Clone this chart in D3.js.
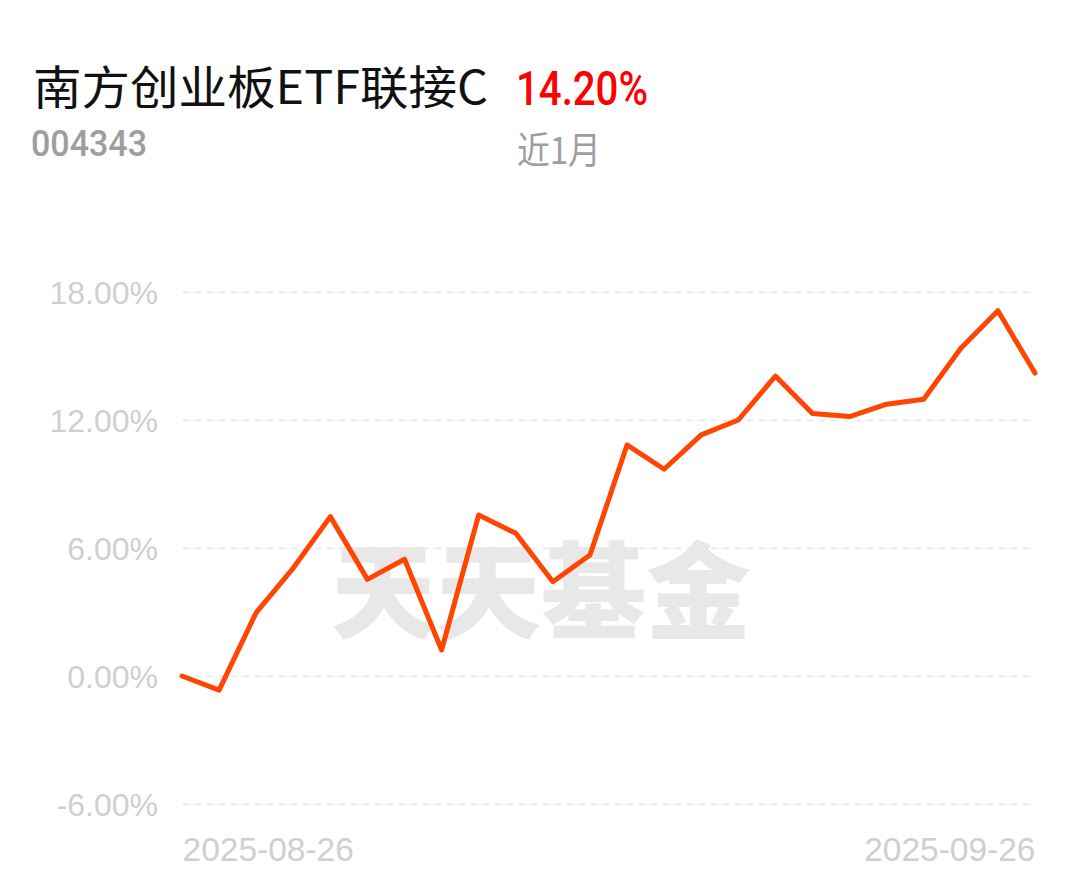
<!DOCTYPE html>
<html>
<head>
<meta charset="utf-8">
<script src="https://cdn.jsdelivr.net/npm/d3@7"></script>
<style>
  body { margin: 0; background: #fff; }
  svg { display: block; }
</style>
</head>
<body>
<div id="svg_area"></div>
<script>
// fund info
var fundName = "南方创业板ETF联接C";
var fundCode = "004343";
var periodLabel = "近1月";
var periodReturn = "14.20%";

// trading days and cumulative return (%)
var dates = ["2025-08-26", "2025-08-27", "2025-08-28", "2025-08-29",
             "2025-09-01", "2025-09-02", "2025-09-03", "2025-09-04", "2025-09-05",
             "2025-09-08", "2025-09-09", "2025-09-10", "2025-09-11", "2025-09-12",
             "2025-09-15", "2025-09-16", "2025-09-17", "2025-09-18", "2025-09-19",
             "2025-09-22", "2025-09-23", "2025-09-24", "2025-09-25", "2025-09-26"];
var returns = [0.00, -0.66, 2.97, 5.06, 7.47, 4.53, 5.47, 1.22, 7.55,
               6.69, 4.42, 5.67, 10.83, 9.69, 11.30, 12.00, 14.06, 12.31, 12.16,
               12.74, 12.97, 15.36, 17.12, 14.20];
var yTicks = [-6, 0, 6, 12, 18];

var svg = d3.select("#svg_area").append("svg").attr("width", 1080).attr("height", 881);

// plot box (note: "top" is taken by window.top, so use other names)
var plotLeft = 182, plotRight = 1035, plotTop = 292, plotBottom = 804;

var scaleX = d3.scaleLinear().domain([0, dates.length - 1]).range([plotLeft, plotRight]);
var scaleY = d3.scaleLinear().domain([-6, 18]).range([plotBottom, plotTop]);

// header
svg.append("text")
    .attr("x", 33).attr("y", 104)
    .attr("font-family", "'Noto Sans CJK SC', 'Noto Sans'")
    .attr("font-size", 46)
    .attr("fill", "#111")
    .attr("textLength", 455)
    .attr("lengthAdjust", "spacingAndGlyphs")
    .text(fundName);

svg.append("text")
    .attr("x", 516).attr("y", 105)
    .attr("font-family", "Roboto, 'Noto Sans'")
    .attr("font-size", 48)
    .attr("font-weight", 500)
    .attr("fill", "#ff0000")
    .attr("textLength", 132)
    .attr("lengthAdjust", "spacingAndGlyphs")
    .text(periodReturn);

svg.append("text")
    .attr("x", 31).attr("y", 156)
    .attr("font-family", "Roboto, 'Noto Sans'")
    .attr("font-size", 36)
    .attr("font-weight", 500)
    .attr("fill", "#9e9e9e")
    .attr("textLength", 116)
    .attr("lengthAdjust", "spacingAndGlyphs")
    .text(fundCode);

svg.append("text")
    .attr("x", 517).attr("y", 164)
    .attr("font-family", "'Noto Sans CJK SC', 'Noto Sans'")
    .attr("font-size", 37)
    .attr("fill", "#9e9e9e")
    .attr("textLength", 84)
    .attr("lengthAdjust", "spacingAndGlyphs")
    .text(periodLabel);

// watermark
svg.append("text")
    .attr("x", 541).attr("y", 630)
    .attr("text-anchor", "middle")
    .attr("font-family", "'Noto Sans CJK SC'")
    .attr("font-size", 105)
    .attr("font-weight", 900)
    .attr("fill", "#e8e8e8")
    .text("天天基金");

// y axis with dashed grid
var yAxis = svg.append("g")
    .attr("transform", "translate(183,0)")
    .call(d3.axisLeft(scaleY)
          .tickValues(yTicks)
          .tickSizeInner(-847)
          .tickSizeOuter(0)
          .tickPadding(25)
          .tickFormat(function(d) { return d.toFixed(2) + "%"; }));
yAxis.select(".domain").remove();
yAxis.selectAll("line")
    .attr("stroke", "#ebebeb")
    .attr("stroke-width", 2)
    .attr("stroke-dasharray", "6,6");
yAxis.selectAll("text")
    .attr("font-family", "'Liberation Sans', Arial, sans-serif")
    .attr("font-size", 32)
    .attr("fill", "#cfcfcf")
    .attr("dy", "0.35em");

// x axis, first and last date only
var xAxis = svg.append("g")
    .attr("transform", "translate(0," + plotBottom + ")")
    .call(d3.axisBottom(scaleX)
          .tickValues([0, dates.length - 1])
          .tickSize(0)
          .tickPadding(33)
          .tickFormat(function(i) { return dates[i]; }));
xAxis.select(".domain").remove();
xAxis.selectAll("text")
    .attr("font-family", "'Liberation Sans', Arial, sans-serif")
    .attr("font-size", 33.5)
    .attr("fill", "#cfcfcf")
    .attr("dy", "0.71em")
    .attr("text-anchor", function(i) { return i === 0 ? "start" : "end"; });

// return line
var line = d3.line()
    .x(function(d, i) { return scaleX(i); })
    .y(function(d) { return scaleY(d); });

svg.append("path")
    .datum(returns)
    .attr("fill", "none")
    .attr("stroke", "#ff4500")
    .attr("stroke-width", 5)
    .attr("stroke-linejoin", "round")
    .attr("stroke-linecap", "round")
    .attr("d", line);
</script>
</body>
</html>
